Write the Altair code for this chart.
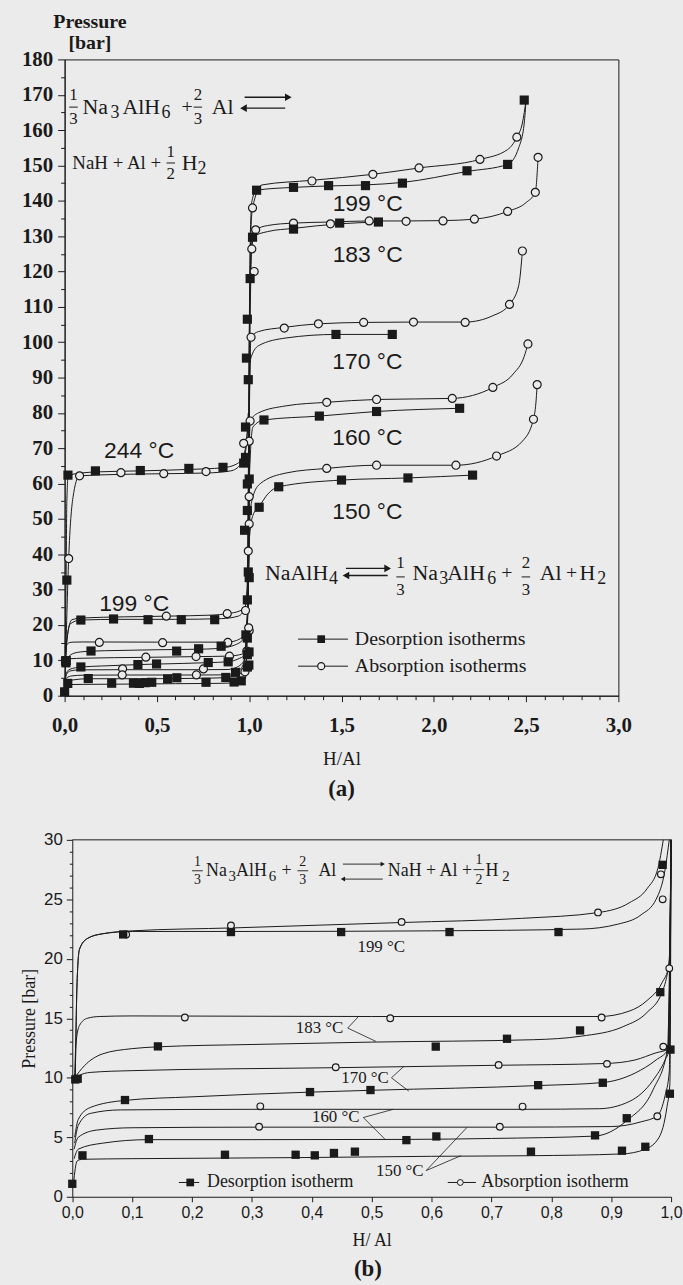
import altair as alt
import pandas as pd

# ---------------- panel (b): measured points (H/Al, bar) ----------------
b199_des_h = [0.085, 0.265, 0.449, 0.63, 0.812, 0.986]
b199_des_p = [22.05, 22.25, 22.25, 22.25, 22.25, 27.9]
b199_abs_h = [0.09, 0.265, 0.55, 0.878, 0.983, 0.986]
b199_abs_p = [22.05, 22.8, 23.1, 23.9, 27.1, 25.0]
blo_des_h = [0.143, 0.607, 0.726, 0.848, 0.982, 0.005, 0.009, 0.088, 0.397, 0.498, 0.778, 0.886, 0.999,
             0.128, 0.558, 0.608, 0.873, 0.926, 0.998, 0.0, 0.017, 0.255, 0.373, 0.405, 0.437, 0.472,
             0.766, 0.918, 0.957]
blo_des_p = [12.64, 12.62, 13.28, 13.98, 17.2, 9.86, 9.92, 8.13, 8.8, 8.97, 9.38, 9.58, 12.37,
             4.85, 4.76, 5.07, 5.16, 6.6, 8.66, 1.09, 3.48, 3.53, 3.53, 3.48, 3.68, 3.79,
             3.79, 3.87, 4.2]
blo_abs_h = [0.188, 0.531, 0.884, 0.997, 0.44, 0.712, 0.893, 0.987, 0.314, 0.752, 0.312, 0.714, 0.977]
blo_abs_p = [15.07, 15.0, 15.07, 19.2, 10.89, 11.08, 11.17, 12.62, 7.6, 7.58, 5.88, 5.88, 6.77]

# ---------------- panel (b): fitted isotherm curves ----------------
b199_des_ch = [0.005, 0.008, 0.012, 0.025, 0.05, 0.1, 0.3, 0.6, 0.85, 0.91, 0.95, 0.975, 0.99, 0.997]
b199_des_cp = [10, 18, 20.8, 21.7, 22.1, 22.3, 22.3, 22.35, 22.5, 22.9, 23.7, 25.0, 27.5, 30]
b199_abs_ch = [0.005, 0.008, 0.012, 0.025, 0.05, 0.1, 0.27, 0.55, 0.75, 0.88, 0.93, 0.96, 0.978, 0.987]
b199_abs_cp = [10, 18, 20.8, 21.7, 22.1, 22.35, 22.6, 23.05, 23.4, 23.9, 24.7, 25.9, 27.6, 30]
b183_abs_ch = [0.004, 0.006, 0.012, 0.025, 0.045, 0.1, 0.5, 0.88, 0.93, 0.96, 0.985, 0.997, 1.0]
b183_abs_cp = [10, 12.8, 14.4, 15.0, 15.15, 15.2, 15.15, 15.15, 15.6, 16.5, 18.0, 19.5, 30]
b183_des_ch = [0.004, 0.02, 0.05, 0.1, 0.143, 0.3, 0.5, 0.77, 0.85, 0.92, 0.96, 0.985, 0.997, 1.0]
b183_des_cp = [10, 11.0, 12.0, 12.45, 12.6, 12.8, 13.0, 13.2, 13.5, 14.3, 15.5, 17.2, 20, 30]
b170_abs_ch = [0.004, 0.012, 0.03, 0.1, 0.44, 0.71, 0.89, 0.94, 0.975, 0.995, 1.0]
b170_abs_cp = [9.8, 10.2, 10.45, 10.6, 10.85, 11.05, 11.2, 11.5, 12.1, 12.4, 30]
b170_des_ch = [0.004, 0.01, 0.03, 0.088, 0.2, 0.4, 0.5, 0.78, 0.886, 0.94, 0.975, 0.995, 1.0]
b170_des_cp = [5.0, 6.5, 7.5, 8.1, 8.4, 8.8, 8.95, 9.35, 9.6, 10.4, 11.5, 12.4, 30]
b160_abs_ch = [0.004, 0.01, 0.03, 0.08, 0.3, 0.75, 0.88, 0.93, 0.97, 0.99, 0.997, 1.0]
b160_abs_cp = [4.5, 6.0, 7.0, 7.3, 7.35, 7.35, 7.4, 8.0, 9.8, 11.5, 12.4, 30]
b160_des_ch = [0.003, 0.01, 0.05, 0.128, 0.3, 0.558, 0.7, 0.873, 0.926, 0.97, 0.994, 1.0]
b160_des_cp = [3.2, 4.0, 4.5, 4.8, 4.8, 4.82, 4.9, 5.1, 6.4, 9.0, 12.4, 30]
b150_abs_ch = [0.003, 0.01, 0.04, 0.1, 0.31, 0.714, 0.9, 0.95, 0.977, 0.99, 0.997, 1.0]
b150_abs_cp = [4.0, 5.0, 5.6, 5.8, 5.85, 5.85, 5.9, 6.3, 6.8, 8.5, 10.5, 30]
b150_des_ch = [0.002, 0.008, 0.017, 0.1, 0.255, 0.4, 0.6, 0.766, 0.918, 0.957, 0.98, 0.993, 0.998, 1.0]
b150_des_cp = [1.1, 3.0, 3.15, 3.2, 3.25, 3.3, 3.4, 3.45, 3.6, 4.0, 5.0, 7.5, 9.5, 30]

# ---------------- panel (a): measured points ----------------
a_des_h = [0.018, 0.167, 0.41, 0.673, 0.858, 0.012,
           0.088, 0.265, 0.452, 0.632, 0.813, 0.007,
           0.97, 0.98, 0.98, 0.995, 0.985, 0.99, 1.005, 1.0, 0.99, 0.99, 0.975, 0.995, 1.0, 0.99, 0.99,
           0.99, 0.99,
           1.04, 1.24, 1.43, 1.63, 1.83, 2.18, 2.40, 2.49,
           1.018, 1.24, 1.49, 1.70, 1.47, 1.775,
           1.08, 1.38, 1.69, 2.14, 1.054, 1.16, 1.50, 1.86, 2.21]
a_des_p = [62.4, 63.6, 63.7, 64.3, 64.6, 32.7,
           21.4, 21.7, 21.5, 21.5, 21.5, 9.3,
           65.8, 67.4, 76.0, 89.4, 95.5, 106.5, 118.0, 61.3, 59.9, 52.4, 46.8, 35.0, 33.4, 27.1, 16.3,
           11.6, 8.1,
           143.0, 143.8, 144.3, 144.3, 145.0, 148.5, 150.3, 168.5,
           129.7, 132.0, 133.7, 134.0, 102.2, 102.2,
           78.0, 79.1, 80.4, 81.3, 53.3, 59.1, 61.0, 61.6, 62.4]
a_abs_h = [0.081, 0.305, 0.537, 0.766, 0.022,
           0.551, 0.881, 0.98,
           1.0, 0.97, 1.005, 1.0, 1.0, 0.995, 1.0, 1.01, 1.014, 1.027, 1.018,
           1.34, 1.67, 1.92, 2.25, 2.45,
           1.035, 1.24, 1.44, 1.65, 1.85, 2.05, 2.22, 2.40, 2.55, 2.565,
           1.19, 1.375, 1.62, 1.89, 2.17, 2.41, 2.48,
           1.42, 1.69, 2.1, 2.32, 2.51,
           1.42, 1.69, 2.12, 2.34, 2.54, 2.56]
a_abs_p = [62.2, 63.1, 62.8, 63.4, 38.8,
           22.5, 23.2, 24.1,
           72.0, 71.4, 77.7, 56.3, 48.6, 40.9, 18.4, 101.4, 126.4, 120.0, 138.0,
           145.6, 147.5, 149.3, 151.7, 158.0,
           131.8, 133.7, 133.5, 134.3, 134.2, 134.3, 134.8, 137.0, 142.4, 152.3,
           104.0, 105.2, 105.6, 105.7, 105.6, 110.7, 125.8,
           83.0, 83.8, 84.1, 87.2, 99.5,
           64.3, 65.2, 65.2, 67.8, 78.2, 88.0]

# ---------------- panel (a): fitted curves ----------------
a244_des_ch = [0.003, 0.008, 0.012, 0.02, 0.17, 0.41, 0.67, 0.86, 0.93, 0.965, 0.985, 0.995]
a244_des_cp = [10, 33, 55, 62.4, 63.3, 63.6, 64.0, 64.5, 65.5, 67.5, 72, 80]
a244_abs_ch = [0.003, 0.022, 0.045, 0.08, 0.3, 0.54, 0.77, 0.9, 0.955, 0.98, 0.995]
a244_abs_cp = [5, 38.8, 56, 62.2, 62.6, 62.8, 63.0, 63.6, 65.5, 69, 78]
a199_des_ch = [0.004, 0.012, 0.03, 0.088, 0.3, 0.6, 0.85, 0.94, 0.975, 0.988, 0.995, 1.0, 1.006,
               1.015, 1.04, 1.24, 1.43, 1.63, 1.83, 2.18, 2.40, 2.46, 2.49, 2.5]
a199_des_cp = [9, 15, 20.3, 21.4, 21.6, 21.6, 21.8, 22.5, 24.5, 30, 60, 100, 130,
               140, 143, 143.8, 144.2, 144.5, 145.2, 148.3, 150.3, 155, 162, 168.5]
a199_abs_ch = [0.004, 0.012, 0.04, 0.1, 0.55, 0.8, 0.88, 0.95, 0.98, 0.99, 0.996, 1.001, 1.008,
               1.018, 1.07, 1.34, 1.67, 1.92, 2.25, 2.40, 2.45, 2.48, 2.5]
a199_abs_cp = [9, 16, 21.5, 22.0, 22.5, 22.8, 23.2, 24.0, 25.5, 30, 60, 100, 130,
               138, 144.5, 145.8, 147.5, 149.3, 151.7, 154.5, 158, 162, 168.5]
a183_des2_h = [0.995, 1.0, 1.005, 1.018, 1.1, 1.24, 1.49, 1.70]
a183_des2_p = [30, 95, 118, 129.7, 131.3, 132.2, 133.5, 134.0]
a183_abs2_h = [0.995, 1.004, 1.014, 1.035, 1.1, 1.24, 1.44, 1.65, 1.85, 2.05, 2.22, 2.40, 2.50, 2.55, 2.565]
a183_abs2_p = [30, 100, 126.4, 131.8, 133.0, 133.7, 134.0, 134.3, 134.3, 134.4, 134.8, 137, 139.5, 142.4, 152.3]
a170_des2_h = [0.995, 1.0, 1.006, 1.05, 1.2, 1.47, 1.775]
a170_des2_p = [30, 80, 95, 99, 101.2, 102.2, 102.2]
a170_abs2_h = [0.995, 1.002, 1.01, 1.05, 1.19, 1.375, 1.62, 1.89, 2.17, 2.32, 2.41, 2.46, 2.48]
a170_abs2_p = [30, 85, 101.4, 103, 104.2, 105.2, 105.6, 105.7, 105.7, 107.5, 110.7, 116, 125.8]
a160_des2_h = [0.995, 1.0, 1.02, 1.08, 1.38, 1.69, 2.14]
a160_des2_p = [30, 60, 76, 78, 79.1, 80.4, 81.3]
a160_abs2_h = [0.995, 1.0, 1.005, 1.05, 1.2, 1.42, 1.69, 2.1, 2.32, 2.43, 2.49, 2.51]
a160_abs2_p = [30, 65, 77.7, 80, 82, 83, 83.8, 84.1, 87.2, 91, 96, 99.5]
a150_des2_h = [0.995, 1.002, 1.02, 1.054, 1.1, 1.16, 1.5, 1.86, 2.21]
a150_des2_p = [30, 45, 51, 53.5, 57, 59.1, 61.0, 61.6, 62.4]
a150_abs2_h = [0.995, 1.0, 1.006, 1.02, 1.06, 1.2, 1.42, 1.69, 2.12, 2.34, 2.48, 2.54, 2.555, 2.56]
a150_abs2_p = [30, 45, 52, 56.3, 60, 63, 64.3, 65.2, 65.2, 67.8, 72, 78.2, 84, 88]

# ---------------- axis ticks ----------------
a_x_ticks = [round(i * 0.1, 1) for i in range(31)]
a_y_ticks = list(range(0, 181, 5))
b_x_ticks = [round(i * 0.1, 1) for i in range(11)]
b_y_ticks = list(range(0, 31))

# ---------------- text annotations (in data units) ----------------
a_temp_t = ["199 °C", "183 °C", "170 °C", "160 °C", "150 °C", "244 °C", "199 °C"]
a_temp_h = [1.642, 1.642, 1.64, 1.64, 1.64, 0.404, 0.377]
a_temp_p = [139.1, 124.6, 94.5, 73.0, 52.0, 69.3, 25.9]

# chemical equations, split in runs: main text, subscripts, centred signs, fractions
a_main_t = ["Na", "AlH", "Al", "H", "NaAlH", "Na", "AlH", "Al", "H"]
a_main_h = [0.097, 0.313, 0.797, 0.634, 1.086, 1.885, 2.073, 2.574, 2.789]
a_main_p = [166.5, 166.5, 166.5, 150.7, 34.6, 34.6, 34.6, 34.6, 34.6]
a_line2_t = ["NaH + Al +"]
a_line2_h = [0.0415]
a_line2_p = [150.7]
a_sub_t = ["3", "6", "2", "4", "3", "6", "2"]
a_sub_h = [0.248, 0.525, 0.72, 1.432, 2.03, 2.289, 2.886]
a_sub_p = [164.9, 164.9, 149.1, 32.9, 32.9, 32.9, 32.9]
a_sign_t = ["+", "+", "+"]
a_sign_h = [0.663, 2.396, 2.746]
a_sign_p = [166.5, 34.6, 34.6]
a_frac_t = ["1", "3", "2", "3", "1", "2", "1", "3", "2", "3"]
a_frac_h = [0.048, 0.048, 0.722, 0.722, 0.575, 0.575, 1.820, 1.820, 2.499, 2.499]
a_frac_p = [169.9, 163.1, 169.9, 163.1, 153.8, 147.6, 37.4, 29.8, 37.4, 29.8]
a_bar_h1 = [0.025, 0.699, 0.552, 1.797, 2.476]
a_bar_h2 = [0.071, 0.745, 0.598, 1.843, 2.522]
a_bar_p = [166.5, 166.5, 150.7, 33.6, 33.6]
a_arrow_h1 = [0.975, 0.969, 1.524, 1.524]
a_arrow_h2 = [1.212, 1.195, 1.750, 1.750]
a_arrow_p = [169.3, 166.2, 36.0, 34.0]
a_arrow_dir = ["right", "left", "right", "left"]
a_leg_t = ["Desorption isotherms", "Absorption isotherms"]
a_leg_h1, a_leg_h2, a_leg_hm, a_leg_ht = 1.265, 1.535, 1.39, 1.572
a_leg_p = [16.0, 8.35]

b_main_t = ["Na", "AlH", "Al", "NaH + Al +", "H"]
b_main_h = [0.2235, 0.2736, 0.411, 0.527, 0.69]
b_main_p = [27.4, 27.4, 27.4, 27.4, 27.4]
b_sub_t = ["3", "6", "2"]
b_sub_h = [0.261, 0.328, 0.718]
b_sub_p = [26.95, 26.95, 26.95]
b_sign_t = ["+"]
b_sign_h = [0.358]
b_sign_p = [27.4]
b_frac_t = ["1", "3", "2", "3", "1", "2"]
b_frac_h = [0.209, 0.209, 0.385, 0.385, 0.679, 0.679]
b_frac_p = [28.15, 26.65, 28.15, 26.65, 28.3, 26.65]
b_bar_h1 = [0.2, 0.376, 0.67]
b_bar_h2 = [0.218, 0.394, 0.688]
b_bar_p = [27.4, 27.4, 27.5]
b_arrow_h1 = [0.452, 0.452]
b_arrow_h2 = [0.5185, 0.5185]
b_arrow_p = [27.96, 26.7]
b_arrow_dir = ["right", "left"]
b_temp_t = ["199 °C", "183 °C", "170 °C", "160 °C", "150 °C"]
b_temp_h = [0.516, 0.413, 0.489, 0.44, 0.547]
b_temp_p = [21.0, 14.2, 10.0, 6.66, 2.2]
b_lead_h1 = [0.46, 0.46, 0.533, 0.533, 0.486, 0.486, 0.591, 0.591]
b_lead_p1 = [14.18, 14.18, 10.0, 10.0, 6.66, 6.66, 2.2, 2.2]
b_lead_h2 = [0.478, 0.507, 0.554, 0.562, 0.536, 0.522, 0.659, 0.649]
b_lead_p2 = [15.15, 13.06, 10.97, 8.88, 7.35, 4.85, 5.82, 3.45]
b_leg_t = ["Desorption isotherm", "Absorption isotherm"]
b_leg_h1 = [0.178, 0.627]
b_leg_h2 = [0.212, 0.674]
b_leg_hm = [0.197, 0.648]
b_leg_ht = [0.225, 0.683]
b_leg_p = 1.2
b_top_h1, b_top_h2, b_top_p = [0.0], [1.0], [30.0]

# ---------------- styling ----------------
BG = "#ebebeb"
INK = "#1a1a1a"
SERIF = "Liberation Serif"
SANS = "Liberation Sans"


def curves_frame(items):
    rows = []
    for name, hs, ps in items:
        for i, (h, p) in enumerate(zip(hs, ps)):
            rows.append({"curve": name, "i": i, "h": h, "p": p})
    return pd.DataFrame(rows)


def before_one(hs, ps):
    kept = [(h, p) for h, p in zip(hs, ps) if h < 0.99]
    return [k[0] for k in kept], [k[1] for k in kept]


def join(first, second):
    return first[0] + second[0], first[1] + second[1]


b_curves = curves_frame([
    ("199d", b199_des_ch, b199_des_cp), ("199a", b199_abs_ch, b199_abs_cp),
    ("183d", b183_des_ch, b183_des_cp), ("183a", b183_abs_ch, b183_abs_cp),
    ("170d", b170_des_ch, b170_des_cp), ("170a", b170_abs_ch, b170_abs_cp),
    ("160d", b160_des_ch, b160_des_cp), ("160a", b160_abs_ch, b160_abs_cp),
    ("150d", b150_des_ch, b150_des_cp), ("150a", b150_abs_ch, b150_abs_cp),
])

a_items = [("244d", a244_des_ch, a244_des_cp), ("244a", a244_abs_ch, a244_abs_cp),
           ("199d", a199_des_ch, a199_des_cp), ("199a", a199_abs_ch, a199_abs_cp)]
for name, low_h, low_p, hi_h, hi_p in [
    ("183d", b183_des_ch, b183_des_cp, a183_des2_h, a183_des2_p),
    ("183a", b183_abs_ch, b183_abs_cp, a183_abs2_h, a183_abs2_p),
    ("170d", b170_des_ch, b170_des_cp, a170_des2_h, a170_des2_p),
    ("170a", b170_abs_ch, b170_abs_cp, a170_abs2_h, a170_abs2_p),
    ("160d", b160_des_ch, b160_des_cp, a160_des2_h, a160_des2_p),
    ("160a", b160_abs_ch, b160_abs_cp, a160_abs2_h, a160_abs2_p),
    ("150d", b150_des_ch, b150_des_cp, a150_des2_h, a150_des2_p),
    ("150a", b150_abs_ch, b150_abs_cp, a150_abs2_h, a150_abs2_p),
]:
    hs, ps = join(before_one(low_h, low_p), (hi_h, hi_p))
    a_items.append((name, hs, ps))
a_curves = curves_frame(a_items)

a_des = pd.DataFrame({"h": a_des_h + blo_des_h, "p": a_des_p + blo_des_p})
a_abs = pd.DataFrame({"h": a_abs_h + blo_abs_h, "p": a_abs_p + blo_abs_p})
b_des = pd.DataFrame({"h": b199_des_h + blo_des_h, "p": b199_des_p + blo_des_p})
b_abs = pd.DataFrame({"h": b199_abs_h + blo_abs_h, "p": b199_abs_p + blo_abs_p})


def texts(t, h, p):
    return pd.DataFrame({"t": t, "h": h, "p": p})


def segs(h1, h2, p):
    return pd.DataFrame({"h": h1, "h2": h2, "p": p})


# ---------------- axes ----------------
half = "abs(datum.value*2 - round(datum.value*2)) < 0.01"
ax_a = alt.Axis(values=a_x_ticks,
                labelExpr=f"{half} ? replace(format(datum.value, '.1f'), '.', ',') : ''",
                title="H/Al", titleFont=SERIF, titleFontSize=19, titleFontWeight="normal",
                titleColor=INK, titlePadding=14,
                labelFont=SERIF, labelFontSize=21, labelFontWeight="bold", labelColor=INK,
                labelPadding=13, labelOverlap=False, labelFlush=False,
                tickSize={"condition": {"test": half, "value": 6}, "value": 4},
                tickColor=INK, domainColor=INK, grid=False)
ay_a = alt.Axis(values=a_y_ticks, labelExpr="datum.value % 10 === 0 ? datum.label : ''",
                title=["Pressure", "[bar]"], titleAngle=0, titleAlign="center", titleBaseline="top",
                titleX=25, titleY=-48, titleFont=SERIF, titleFontSize=20, titleFontWeight="bold",
                titleLineHeight=21, titleColor=INK,
                labelFont=SERIF, labelFontSize=21, labelFontWeight="bold", labelColor=INK,
                labelPadding=5, labelOverlap=False,
                tickSize={"condition": {"test": "datum.value % 10 === 0", "value": 7}, "value": 4},
                tickColor=INK, domainColor=INK, grid=False)
ax_b = alt.Axis(values=b_x_ticks, labelExpr="replace(format(datum.value, '.1f'), '.', ',')",
                title="H/ Al", titleFont=SERIF, titleFontSize=18, titleFontWeight="normal",
                titleColor=INK, titlePadding=11,
                labelFont=SANS, labelFontSize=16, labelColor=INK, labelPadding=3,
                labelOverlap=False, labelFlush=False, tickSize=5,
                tickColor=INK, domainColor=INK, grid=False)
ay_b = alt.Axis(values=b_y_ticks, labelExpr="datum.value % 5 === 0 ? datum.label : ''",
                title="Pressure [bar]", titleFont=SERIF, titleFontSize=18, titleFontWeight="normal",
                titleColor=INK, titlePadding=5, offset=-7.7,
                labelFont=SANS, labelFontSize=17, labelColor=INK, labelPadding=4, labelOverlap=False,
                tickSize={"condition": {"test": "datum.value % 5 === 0", "value": 6}, "value": 3},
                tickColor=INK, domainColor=INK, grid=False)

xa = alt.X("h:Q", scale=alt.Scale(domain=[0, 3], nice=False), axis=ax_a)
ya = alt.Y("p:Q", scale=alt.Scale(domain=[0, 180], nice=False), axis=ay_a)
xb = alt.X("h:Q", scale=alt.Scale(domain=[0, 1], nice=False, range=[7.7, 610]), axis=ax_b)
yb = alt.Y("p:Q", scale=alt.Scale(domain=[0, 30], nice=False), axis=ay_b)


def panel_layers(x, y, curves, des, abs_, sq_size, ci_size):
    lines = alt.Chart(curves).mark_line(interpolate="monotone", color=INK, strokeWidth=1).encode(
        x=x, y=y, detail="curve:N", order="i:Q")
    circ = alt.Chart(abs_).mark_point(shape="circle", filled=True, fill=BG, stroke=INK,
                                      strokeWidth=1.2, size=ci_size, opacity=1).encode(x=x, y=y)
    sq = alt.Chart(des).mark_point(shape="square", filled=True, color=INK, size=sq_size,
                                   opacity=1).encode(x=x, y=y)
    return [lines, circ, sq]


def text_layer(df, x, y, font, size, align="center", weight="normal"):
    return alt.Chart(df).mark_text(font=font, fontSize=size, align=align, baseline="middle",
                                   color=INK, fontWeight=weight).encode(x=x, y=y, text="t:N")


def rule_layer(df, x, y, width=1.2):
    return alt.Chart(df).mark_rule(color=INK, strokeWidth=width).encode(x=x, x2="h2:Q", y=y)


def heads(h1, h2, p, dirs, x, y, size):
    rh = [b for b, d in zip(h2, dirs) if d == "right"]
    rp = [q for q, d in zip(p, dirs) if d == "right"]
    lh = [a for a, d in zip(h1, dirs) if d == "left"]
    lp = [q for q, d in zip(p, dirs) if d == "left"]
    r = alt.Chart(pd.DataFrame({"h": rh, "p": rp})).mark_point(
        shape="triangle-right", filled=True, color=INK, size=size, opacity=1).encode(x=x, y=y)
    l = alt.Chart(pd.DataFrame({"h": lh, "p": lp})).mark_point(
        shape="triangle-left", filled=True, color=INK, size=size, opacity=1).encode(x=x, y=y)
    return [r, l]


# ---------------- panel (a) ----------------
a_layers = panel_layers(xa, ya, a_curves, a_des, a_abs, 85, 65)
a_layers += [
    text_layer(texts(a_temp_t, a_temp_h, a_temp_p), xa, ya, SANS, 23),
    text_layer(texts(a_main_t, a_main_h, a_main_p), xa, ya, SERIF, 22, align="left"),
    text_layer(texts(a_line2_t, a_line2_h, a_line2_p), xa, ya, SERIF, 19, align="left"),
    text_layer(texts(a_sub_t, a_sub_h, a_sub_p), xa, ya, SERIF, 18, align="left"),
    text_layer(texts(a_sign_t, a_sign_h, a_sign_p), xa, ya, SERIF, 20),
    text_layer(texts(a_frac_t, a_frac_h, a_frac_p), xa, ya, SERIF, 17),
    rule_layer(segs(a_bar_h1, a_bar_h2, a_bar_p), xa, ya, 1),
    rule_layer(segs(a_arrow_h1, a_arrow_h2, a_arrow_p), xa, ya, 1.3),
]
a_layers += heads(a_arrow_h1, a_arrow_h2, a_arrow_p, a_arrow_dir, xa, ya, 60)
a_layers += [
    rule_layer(segs([a_leg_h1] * 2, [a_leg_h2] * 2, a_leg_p), xa, ya, 1),
    alt.Chart(pd.DataFrame({"h": [a_leg_hm], "p": [a_leg_p[1]]})).mark_point(
        shape="circle", filled=True, fill=BG, stroke=INK, strokeWidth=1.2, size=50, opacity=1).encode(x=xa, y=ya),
    alt.Chart(pd.DataFrame({"h": [a_leg_hm], "p": [a_leg_p[0]]})).mark_point(
        shape="square", filled=True, color=INK, size=60, opacity=1).encode(x=xa, y=ya),
    text_layer(texts(a_leg_t, [a_leg_ht] * 2, a_leg_p), xa, ya, SERIF, 20, align="left"),
]
panel_a = alt.layer(*a_layers).properties(
    width=557, height=640,
    title=alt.TitleParams("(a)", orient="bottom", font=SERIF, fontSize=23, fontWeight="bold",
                          color=INK, offset=10, anchor="middle"))

# ---------------- panel (b) ----------------
b_layers = [rule_layer(segs(b_top_h1, b_top_h2, b_top_p), xb, yb, 1)]
b_layers += panel_layers(xb, yb, b_curves, b_des, b_abs, 70, 45)
b_layers += [
    text_layer(texts(b_main_t, b_main_h, b_main_p), xb, yb, SERIF, 18, align="left"),
    text_layer(texts(b_sub_t, b_sub_h, b_sub_p), xb, yb, SERIF, 15, align="left"),
    text_layer(texts(b_sign_t, b_sign_h, b_sign_p), xb, yb, SERIF, 18),
    text_layer(texts(b_frac_t, b_frac_h, b_frac_p), xb, yb, SERIF, 14),
    rule_layer(segs(b_bar_h1, b_bar_h2, b_bar_p), xb, yb, 0.9),
    rule_layer(segs(b_arrow_h1, b_arrow_h2, b_arrow_p), xb, yb, 0.9),
    text_layer(texts(b_temp_t, b_temp_h, b_temp_p), xb, yb, SERIF, 17),
    alt.Chart(pd.DataFrame({"h": b_lead_h1, "h2": b_lead_h2, "p": b_lead_p1, "p2": b_lead_p2}))
    .mark_rule(color=INK, strokeWidth=0.8).encode(x=xb, x2="h2:Q", y=yb, y2="p2:Q"),
]
b_layers += heads(b_arrow_h1, b_arrow_h2, b_arrow_p, b_arrow_dir, xb, yb, 25)
b_layers += [
    rule_layer(segs(b_leg_h1, b_leg_h2, [b_leg_p] * 2), xb, yb, 1),
    alt.Chart(pd.DataFrame({"h": [b_leg_hm[0]], "p": [b_leg_p]})).mark_point(
        shape="square", filled=True, color=INK, size=60, opacity=1).encode(x=xb, y=yb),
    alt.Chart(pd.DataFrame({"h": [b_leg_hm[1]], "p": [b_leg_p]})).mark_point(
        shape="circle", filled=True, fill=BG, stroke=INK, strokeWidth=1, size=35, opacity=1).encode(x=xb, y=yb),
    text_layer(texts(b_leg_t, b_leg_ht, [b_leg_p] * 2), xb, yb, SERIF, 18, align="left"),
]
panel_b = alt.layer(*b_layers).properties(
    width=610, height=359,
    view=alt.ViewBackground(stroke="transparent"),
    title=alt.TitleParams("(b)", orient="bottom", font=SERIF, fontSize=23, fontWeight="bold",
                          color=INK, offset=9, anchor="middle"))

chart = alt.concat(panel_a, panel_b, columns=1, spacing=28).properties(
    background=BG, padding={"left": 20, "top": 7, "right": 0, "bottom": 0}
).configure_view(stroke=INK, strokeWidth=1).configure_axis(domainWidth=1, tickWidth=1)

chart.save("out.html", embed_options={"renderer": "svg", "actions": False})
